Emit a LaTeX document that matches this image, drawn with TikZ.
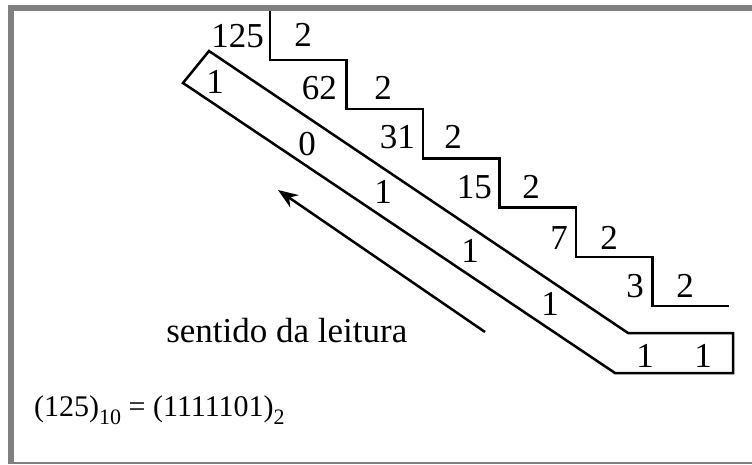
\documentclass[tikz,border=0pt]{standalone}
\usepackage{fontspec}
\setmainfont{Liberation Serif}
\usetikzlibrary{arrows.meta}
\definecolor{framegray}{HTML}{808080}
\newcommand\lowsub[1]{\raisebox{-8pt}{\fontsize{22}{22}\selectfont #1}}

\begin{document}
\begin{tikzpicture}[x=1pt,y=-1pt,>=Stealth,line width=2.5pt,
 num/.style={inner sep=0,anchor=base east,font=\fontsize{35}{35}\selectfont},
 digit/.style={inner sep=0,anchor=base,font=\fontsize{35}{35}\selectfont},
 caption/.style={inner sep=0,anchor=base west}]
\useasboundingbox (0,0) rectangle (752,464);
\draw[framegray,line width=6pt] (11,464)--(11,8)--(752,8);
\draw[framegray,line width=2pt] (11,463)--(752,463);
\node[num] (n125) at (265,47) {125};
\node[num] (n62) at (338,99) {62};
\node[num] (n31) at (416,148) {31};
\node[num] (n15) at (493,198) {15};
\node[num] (n7) at (569,249) {7};
\node[num] (n3) at (645,297) {3};
\foreach \x/\y [count=\i] in {303/46,383/99,453/148,531/198,609/249,685/297}
  \node[digit] (two\i) at (\x,\y) {2};
\foreach \x/\y/\b [count=\i] in {215/93/1,307/155/0,383/203/1,470/262/1,550/315/1,645/367/1}
  \node[digit] (rest\i) at (\x,\y) {\b};
\node[digit] (last) at (703,367) {1};
\draw (270,11) \foreach \k in {0,...,5} { |- ({270+76.5*(\k+1)},{60+49.2*\k}) };
\draw (209,51)--(628,333)--(733,333)--(733,373)--(615,373)--(183,83)--cycle;
\coordinate (readstart) at (485,332);
\coordinate (readend) at (278,190);
\draw[-{Stealth[length=20pt,width=15pt]},line width=2.5pt] (readstart)--(readend);
\node[caption,font=\fontsize{35}{35}\selectfont] (reading) at (165,342) {sentido da leitura};
\node[caption,font=\fontsize{30}{30}\selectfont] (result) at (33,416)
  {(125)\lowsub{10} = (1111101)\lowsub{2}};
\end{tikzpicture}
\end{document}
